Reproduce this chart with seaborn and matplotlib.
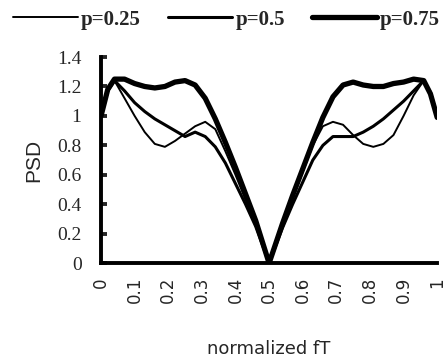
import matplotlib
matplotlib.use("Agg")
import matplotlib.pyplot as plt
import seaborn as sns
import pandas as pd

x = [0.0, 0.02, 0.04, 0.07, 0.10, 0.13, 0.16, 0.19, 0.22, 0.25, 0.28, 0.31, 0.34, 0.37, 0.40, 0.43, 0.46, 0.50,
     0.54, 0.57, 0.60, 0.63, 0.66, 0.69, 0.72, 0.75, 0.78, 0.81, 0.84, 0.87, 0.90, 0.93, 0.96, 0.98, 1.0]

psd_p025 = [1.00, 1.17, 1.24, 1.12, 1.00, 0.89, 0.81, 0.79, 0.83, 0.88, 0.93, 0.96, 0.91, 0.76, 0.60, 0.43, 0.27, 0.00,
            0.26, 0.44, 0.62, 0.80, 0.93, 0.96, 0.94, 0.87, 0.81, 0.79, 0.81, 0.87, 1.00, 1.14, 1.24, 1.16, 1.00]
psd_p05 = [1.00, 1.17, 1.24, 1.17, 1.09, 1.03, 0.98, 0.94, 0.90, 0.86, 0.89, 0.86, 0.79, 0.68, 0.54, 0.40, 0.25, 0.00,
           0.24, 0.40, 0.55, 0.70, 0.80, 0.86, 0.86, 0.86, 0.89, 0.93, 0.98, 1.04, 1.10, 1.17, 1.24, 1.16, 1.00]
psd_p075 = [1.00, 1.18, 1.25, 1.25, 1.22, 1.20, 1.19, 1.20, 1.23, 1.24, 1.21, 1.12, 0.98, 0.82, 0.65, 0.47, 0.29, 0.00,
            0.27, 0.46, 0.64, 0.82, 0.99, 1.13, 1.21, 1.23, 1.21, 1.20, 1.20, 1.22, 1.23, 1.25, 1.24, 1.15, 0.99]

labels = ["p=0.25", "p=0.5", "p=0.75"]
widths = [1.4, 2.2, 3.8]
x_ticks = [0, 0.1, 0.2, 0.3, 0.4, 0.5, 0.6, 0.7, 0.8, 0.9, 1]
x_ticklabels = ["0", "0.1", "0.2", "0.3", "0.4", "0.5", "0.6", "0.7", "0.8", "0.9", "1"]
y_ticks = [0, 0.2, 0.4, 0.6, 0.8, 1.0, 1.2, 1.4]
y_ticklabels = ["0", "0.2", "0.4", "0.6", "0.8", "1", "1.2", "1.4"]

sns.set_style("ticks")
plt.rcParams["font.family"] = ["Liberation Serif", "DejaVu Serif"]

df = pd.concat([
    pd.DataFrame({"x": x, "psd": psd_p025, "p": labels[0]}),
    pd.DataFrame({"x": x, "psd": psd_p05, "p": labels[1]}),
    pd.DataFrame({"x": x, "psd": psd_p075, "p": labels[2]}),
])

fig = plt.figure(figsize=(4.47, 3.61), dpi=100)
ax = fig.add_axes([0.226, 0.271, 0.752, 0.571])

for lab, lw in zip(labels, widths):
    sns.lineplot(data=df[df["p"] == lab], x="x", y="psd", ax=ax, color="black",
                 linewidth=lw, label=lab, legend=False)

ax.set_xlim(0, 1)
ax.set_ylim(0, 1.4)
sns.despine(ax=ax)
for s in ["left", "bottom"]:
    ax.spines[s].set_linewidth(2.8)
    ax.spines[s].set_color("black")

ax.set_xticks(x_ticks)
ax.set_xticklabels(x_ticklabels, rotation=90, family="DejaVu Sans", fontsize=12)
ax.set_yticks(y_ticks)
ax.set_yticklabels(y_ticklabels, fontsize=14)
ax.tick_params(axis="x", length=0, pad=10)
ax.tick_params(axis="y", direction="in", length=4, width=2.8, pad=14)

ax.set_xlabel("normalized fT", family="DejaVu Sans", fontsize=13, labelpad=26)
ax.set_ylabel("PSD", family="Liberation Sans", fontsize=15, labelpad=10)

handles, _ = ax.get_legend_handles_labels()
fig.legend(handles, labels, loc="upper left", bbox_to_anchor=(0.02, 0.985), ncol=3,
           frameon=False, handlelength=3.1, handletextpad=0.15,
           columnspacing=1.3, borderpad=0.2, borderaxespad=0.0,
           prop={"family": "Liberation Serif", "weight": "bold", "size": 15})

fig.savefig("out.png", dpi=100)
